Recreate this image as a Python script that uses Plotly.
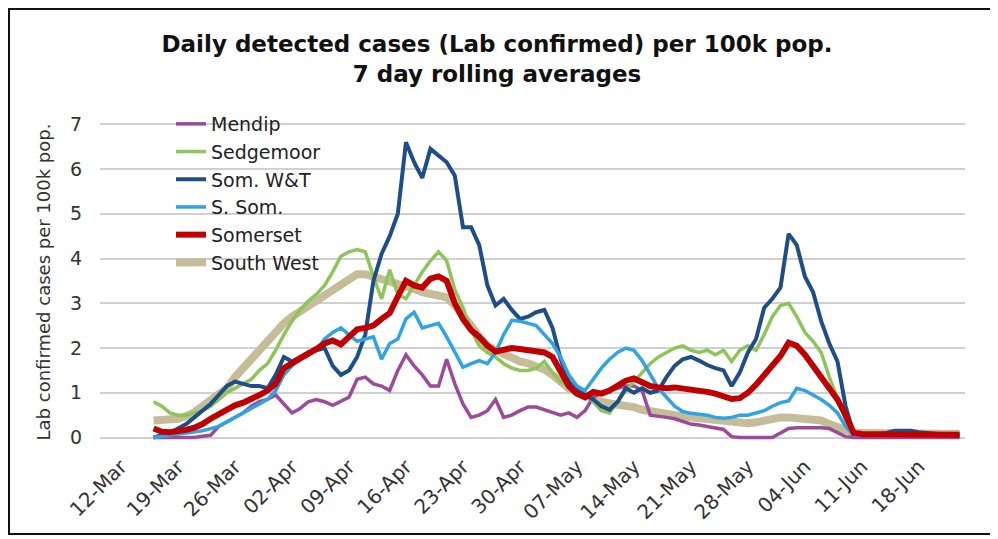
import pandas as pd
import plotly.graph_objects as go

# daily dates, 16 Mar - 23 Jun 2020
dates = pd.date_range("2020-03-16", "2020-06-23", freq="D")

mendip = [
    0.0, 0.0, 0.0, 0.0, 0.0, 0.0, 0.03, 0.05, 0.25, 0.35,
    0.45, 0.55, 0.7, 0.8, 0.85, 0.95, 0.75, 0.55, 0.65, 0.8,
    0.85, 0.8, 0.72, 0.8, 0.9, 1.3, 1.35, 1.2, 1.15, 1.05,
    1.5, 1.85, 1.6, 1.4, 1.15, 1.15, 1.75, 1.2, 0.75, 0.45,
    0.5, 0.6, 0.85, 0.45, 0.5, 0.6, 0.68, 0.68, 0.62, 0.55,
    0.5, 0.55, 0.45, 0.6, 0.9, 1.0, 1.05, 1.1, 1.15, 1.15,
    1.05, 0.5, 0.48, 0.45, 0.42, 0.36, 0.3, 0.28, 0.25, 0.22,
    0.18, 0.02, 0.0, 0.0, 0.0, 0.0, 0.0, 0.1, 0.2, 0.22,
    0.22, 0.22, 0.22, 0.2, 0.12, 0.02, 0.0, 0.0, 0.0, 0.0,
    0.0, 0.0, 0.0, 0.0, 0.0, 0.0, 0.0, 0.0, 0.0, 0.0,
]

sedgemoor = [
    0.8, 0.7, 0.55, 0.5, 0.5, 0.55, 0.6, 0.7, 0.85, 1.0,
    1.1, 1.2, 1.3, 1.5, 1.65, 1.95, 2.3, 2.6, 2.85, 3.05,
    3.2, 3.4, 3.7, 4.05, 4.15, 4.2, 4.15, 3.6, 3.1, 3.75,
    3.2, 3.1, 3.4, 3.7, 3.95, 4.15, 3.95, 3.3, 2.9, 2.4,
    2.05, 1.9, 1.8, 1.65, 1.55, 1.5, 1.5, 1.55, 1.7, 1.45,
    1.25, 1.15, 1.1, 1.0, 0.8, 0.6, 0.55, 0.8, 1.05, 1.25,
    1.45, 1.65, 1.8, 1.9, 2.0, 2.05, 1.95, 1.9, 1.95, 1.85,
    1.95, 1.7, 1.95, 2.05, 1.95, 2.3, 2.7, 2.95, 3.0, 2.7,
    2.35, 2.15, 1.9, 1.35, 0.9, 0.4, 0.1, 0.08, 0.08, 0.08,
    0.08, 0.08, 0.08, 0.07, 0.07, 0.06, 0.06, 0.05, 0.05, 0.05,
]

som_wt = [
    0.0, 0.05, 0.1, 0.2, 0.3, 0.45, 0.6, 0.75, 0.95, 1.15,
    1.25, 1.2, 1.15, 1.15, 1.1, 1.4, 1.8, 1.7, 1.8, 1.9,
    1.95, 2.0, 1.6, 1.4, 1.5, 1.8, 2.3, 3.5, 4.1, 4.5,
    5.0, 6.6, 6.15, 5.8, 6.45, 6.3, 6.15, 5.85, 4.7, 4.7,
    4.3, 3.4, 2.95, 3.1, 2.85, 2.65, 2.7, 2.8, 2.85, 2.45,
    1.75, 1.25, 1.05, 0.95, 0.85, 0.7, 0.62, 0.8, 1.1, 1.0,
    1.1, 1.0, 1.05, 1.35, 1.6, 1.75, 1.8, 1.72, 1.62, 1.55,
    1.5, 1.15, 1.45, 1.9, 2.2, 2.9, 3.1, 3.35, 4.55, 4.3,
    3.6, 3.25, 2.6, 2.1, 1.7, 0.7, 0.08, 0.05, 0.05, 0.08,
    0.1, 0.15, 0.15, 0.15, 0.12, 0.1, 0.08, 0.06, 0.05, 0.05,
]

s_som = [
    0.0, 0.03, 0.05, 0.08, 0.1, 0.12, 0.15, 0.2, 0.25, 0.35,
    0.45, 0.55, 0.65, 0.75, 0.85, 1.05, 1.4, 1.6, 1.8, 1.85,
    1.95, 2.2, 2.35, 2.45, 2.3, 2.15, 2.2, 2.25, 1.75, 2.1,
    2.2, 2.65, 2.8, 2.45, 2.5, 2.55, 2.25, 1.9, 1.57, 1.65,
    1.72, 1.65, 1.9, 2.3, 2.62, 2.6, 2.55, 2.5, 2.3, 2.1,
    1.8, 1.4, 1.15, 1.05, 1.3, 1.55, 1.75, 1.9, 2.0, 1.95,
    1.72, 1.4, 1.1, 0.9, 0.7, 0.58, 0.54, 0.52, 0.5, 0.45,
    0.43, 0.45, 0.5, 0.5, 0.55, 0.6, 0.7, 0.78, 0.82, 1.1,
    1.05, 0.95, 0.85, 0.72, 0.55, 0.25, 0.05, 0.05, 0.05, 0.05,
    0.05, 0.05, 0.05, 0.05, 0.05, 0.05, 0.05, 0.05, 0.05, 0.05,
]

somerset = [
    0.2, 0.13, 0.12, 0.14, 0.17, 0.22, 0.3, 0.42, 0.52, 0.62,
    0.72, 0.78, 0.85, 0.95, 1.05, 1.2, 1.55, 1.65, 1.75, 1.88,
    1.98, 2.1, 2.17, 2.08, 2.25, 2.42, 2.45, 2.5, 2.65, 2.78,
    3.15, 3.5, 3.4, 3.35, 3.55, 3.6, 3.5, 3.0, 2.65, 2.4,
    2.25, 2.05, 1.92, 1.95, 2.0, 1.98, 1.95, 1.92, 1.9, 1.8,
    1.5, 1.15, 0.98, 0.9, 1.02, 0.98, 1.05, 1.15, 1.27, 1.32,
    1.25, 1.15, 1.12, 1.1, 1.12, 1.1, 1.08, 1.05, 1.02, 0.98,
    0.93, 0.86, 0.88, 1.0, 1.18, 1.4, 1.6, 1.82, 2.12, 2.05,
    1.85, 1.6, 1.4, 1.12, 0.85, 0.5, 0.1, 0.08, 0.07, 0.07,
    0.07, 0.07, 0.07, 0.07, 0.07, 0.07, 0.07, 0.07, 0.06, 0.06,
]

south_west = [
    0.38, 0.38, 0.4, 0.42, 0.48, 0.56, 0.7, 0.85, 0.98, 1.1,
    1.35, 1.55, 1.78, 1.98, 2.2, 2.35, 2.55, 2.7, 2.82, 2.95,
    3.05, 3.18, 3.3, 3.42, 3.55, 3.65, 3.65, 3.6, 3.55, 3.5,
    3.42, 3.36, 3.32, 3.25, 3.2, 3.18, 3.13, 2.95, 2.75, 2.5,
    2.25, 2.05, 1.95, 1.85, 1.76, 1.7, 1.66, 1.6, 1.52, 1.4,
    1.22, 1.1, 1.02, 0.95, 0.85, 0.8, 0.76, 0.74, 0.72, 0.68,
    0.62, 0.58, 0.55, 0.52, 0.5, 0.47, 0.45, 0.42, 0.39, 0.37,
    0.35, 0.33, 0.32, 0.32, 0.34, 0.38, 0.42, 0.45, 0.45, 0.44,
    0.43, 0.41, 0.38, 0.3, 0.22, 0.15, 0.1, 0.1, 0.1, 0.1,
    0.1, 0.09, 0.09, 0.09, 0.08, 0.08, 0.08, 0.08, 0.08, 0.08,
]

# (name, values, colour, width, legend rank) - South West drawn first, Somerset last
series = [
    ("South West", south_west, "#C4BD97", 8, 6),
    ("Mendip", mendip, "#9C4A9A", 3.5, 1),
    ("Sedgemoor", sedgemoor, "#8DC55B", 3.5, 2),
    ("Som. W&T", som_wt, "#1F4E86", 4, 3),
    ("S. Som.", s_som, "#2EA3E6", 3.5, 4),
    ("Somerset", somerset, "#C00000", 6, 5),
]

fig = go.Figure()
for name, vals, color, width, rank in series:
    fig.add_trace(
        go.Scatter(
            x=dates,
            y=vals,
            mode="lines",
            name=name,
            legendgroup=name,
            legendrank=rank,
            line=dict(color=color, width=width),
        )
    )

# the page body adds an 8px margin, so figure pixels = screen pixels - 8
W, H = 998, 539
left, right, top, bottom = 92, 41, 114, 105
plot_w = W - left - right
plot_h = H - top - bottom

fig.update_layout(
    width=W,
    height=H,
    margin=dict(l=left, r=right, t=top, b=bottom),
    paper_bgcolor="white",
    plot_bgcolor="white",
    font=dict(family="DejaVu Sans", size=18, color="#333333"),
    title=dict(
        text="<b>Daily detected cases (Lab confirmed) per 100k pop.<br>7 day rolling averages</b>",
        x=489 / W,
        xanchor="center",
        y=1 - 44 / H,
        yanchor="top",
        yref="container",
        font=dict(family="DejaVu Sans", size=23, color="#111111"),
    ),
    xaxis=dict(
        type="date",
        range=["2020-03-09 10:00", "2020-06-23 16:00"],
        tick0="2020-03-12",
        dtick=7 * 86400000,
        tickformat="%d-%b",
        tickangle=-45,
        showgrid=False,
        zeroline=False,
        showline=False,
        ticks="",
        ticklabelstandoff=8,
        tickfont=dict(size=20, color="#333333"),
    ),
    yaxis=dict(
        range=[-0.1, 7.05],
        tickvals=[0, 1, 2, 3, 4, 5, 6, 7],
        showgrid=True,
        gridcolor="#D0D0D0",
        gridwidth=1.5,
        zeroline=False,
        showline=False,
        ticks="",
        ticklabelstandoff=17,
        tickfont=dict(size=19, color="#333333"),
        title=dict(
            text="Lab confirmed cases per 100k pop.",
            font=dict(size=18, color="#333333"),
            standoff=14,
        ),
    ),
    showlegend=True,
    legend=dict(
        x=(163 - left) / plot_w,
        y=(H - bottom - 97) / plot_h,
        xanchor="left",
        yanchor="top",
        bgcolor="rgba(0,0,0,0)",
        font=dict(size=19, color="#222222"),
        tracegroupgap=0,
        itemwidth=30,
    ),
)

# black frame around the whole chart
fig.add_shape(
    type="rect",
    xref="paper",
    yref="paper",
    x0=(1 - left) / plot_w,
    x1=(985 - left) / plot_w,
    y0=(H - bottom - 526) / plot_h,
    y1=(H - bottom - 1) / plot_h,
    line=dict(color="#111111", width=2),
    fillcolor="rgba(0,0,0,0)",
    layer="below",
)

fig.write_html("out.html")
